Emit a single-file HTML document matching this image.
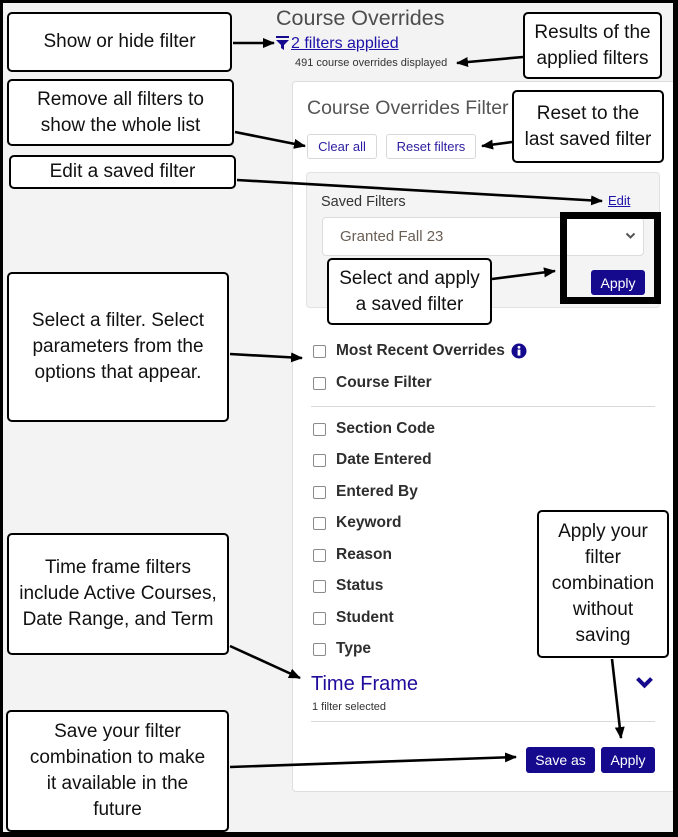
<!DOCTYPE html>
<html><head><meta charset="utf-8"><style>
*{margin:0;padding:0;box-sizing:border-box}
html,body{width:678px;height:837px;overflow:hidden;background:#000}
#bg{position:absolute;left:3px;top:3px;width:670px;height:829px;background:#f3f3f3}
.a{position:absolute}
.ui{font-family:"Liberation Sans",Arial,sans-serif}
.card{position:absolute;left:292px;top:81px;width:385px;height:711px;background:#fff;border:1px solid #dedede;border-radius:4px}
.co{position:absolute;background:#fff;border:2px solid #000;border-radius:5px;display:flex;align-items:center;justify-content:center;text-align:center;font-family:"Liberation Sans",Arial,sans-serif;font-size:19px;line-height:26px;color:#111;z-index:5}
.cb{position:absolute;left:313px;width:13px;height:13px;border:1px solid #8a8a8a;border-radius:2px;background:#fff}
.lb{position:absolute;left:336px;font-family:"Liberation Sans",Arial,sans-serif;font-weight:bold;font-size:15.5px;color:#2e2e2e;line-height:18px}
.btn{position:absolute;background:#150a8e;color:#fff;border-radius:3px;font-family:"Liberation Sans",Arial,sans-serif;font-size:14px;display:flex;align-items:center;justify-content:center}
.wb{position:absolute;background:#fff;border:1px solid #d8d8d8;border-radius:3px;color:#2a1ca0;font-family:"Liberation Sans",Arial,sans-serif;font-size:13px;display:flex;align-items:center;justify-content:center}
</style></head><body>
<div id="bg"></div>

<!-- header -->
<div class="a ui" style="left:276px;top:5px;font-size:21.5px;color:#4d4d4d;line-height:26px;white-space:nowrap">Course Overrides</div>
<svg class="a" style="left:276px;top:36px" width="14" height="15" viewBox="0 0 14 15"><rect x="0" y="0" width="13" height="2" fill="#150a8e"/><path d="M0 4 H13 L8 9 V14 L5 12 V9 Z" fill="#150a8e"/></svg>
<div class="a ui" style="left:291px;top:35px;font-size:16px;color:#1d12a8;text-decoration:underline;line-height:18px;white-space:nowrap">2 filters applied</div>
<div class="a ui" style="left:295px;top:57px;font-size:11px;color:#333;line-height:13px;white-space:nowrap">491 course overrides displayed</div>

<div class="card"></div>
<div class="a ui" style="left:307px;top:96px;font-size:19.5px;color:#555;line-height:24px;white-space:nowrap">Course Overrides Filter</div>
<div class="wb" style="left:307px;top:134px;width:70px;height:25px">Clear all</div>
<div class="wb" style="left:386px;top:134px;width:90px;height:25px">Reset filters</div>

<!-- saved filters box -->
<div class="a" style="left:306px;top:172px;width:354px;height:136px;background:#f4f4f4;border:1px solid #e2e2e2;border-radius:4px"></div>
<div class="a ui" style="left:321px;top:194px;font-size:14.5px;color:#333;line-height:17px">Saved Filters</div>
<div class="a ui" style="left:608px;top:193px;font-size:13px;color:#1d12a8;text-decoration:underline;line-height:15px">Edit</div>
<div class="a" style="left:322px;top:217px;width:322px;height:39px;background:#fff;border:1px solid #dcdcdc;border-radius:4px"></div>
<div class="a ui" style="left:340px;top:228px;font-size:15px;color:#6a5f55;line-height:18px;white-space:nowrap">Granted Fall 23</div>
<svg class="a" style="left:625px;top:232px" width="11" height="8"><path d="M1.5 1.5 L5.5 5.5 L9.5 1.5" stroke="#555" stroke-width="2" fill="none"/></svg>
<div class="btn" style="left:591px;top:270px;width:54px;height:25px">Apply</div>
<div class="a" style="left:560px;top:212px;width:101px;height:92px;border:7px solid #000;z-index:4"></div>

<!-- filter list -->
<div class="cb" style="top:345px"></div><div class="lb" style="top:342px">Most Recent Overrides</div>
<svg class="a" style="left:511px;top:343px" width="16" height="16"><circle cx="8" cy="8" r="7.5" fill="#150a8e"/><circle cx="8" cy="4.3" r="1.4" fill="#fff"/><rect x="6.6" y="6.6" width="2.8" height="6" fill="#fff"/></svg>
<div class="cb" style="top:377px"></div><div class="lb" style="top:374px">Course Filter</div>
<div class="a" style="left:311px;top:406px;width:344px;height:1px;background:#d9d9d9"></div>
<div class="cb" style="top:423px"></div><div class="lb" style="top:420px">Section Code</div>
<div class="cb" style="top:454px"></div><div class="lb" style="top:451px">Date Entered</div>
<div class="cb" style="top:486px"></div><div class="lb" style="top:483px">Entered By</div>
<div class="cb" style="top:517px"></div><div class="lb" style="top:514px">Keyword</div>
<div class="cb" style="top:549px"></div><div class="lb" style="top:546px">Reason</div>
<div class="cb" style="top:580px"></div><div class="lb" style="top:577px">Status</div>
<div class="cb" style="top:612px"></div><div class="lb" style="top:609px">Student</div>
<div class="cb" style="top:643px"></div><div class="lb" style="top:640px">Type</div>

<div class="a ui" style="left:311px;top:673px;font-size:20px;color:#1f0c9c;line-height:23px;white-space:nowrap">Time Frame</div>
<svg class="a" style="left:635px;top:676px" width="19" height="13"><path d="M2.5 2.5 L9.5 9.5 L16.5 2.5" stroke="#150a8e" stroke-width="4" fill="none"/></svg>
<div class="a ui" style="left:312px;top:701px;font-size:11px;color:#333;line-height:13px;white-space:nowrap">1 filter selected</div>
<div class="a" style="left:311px;top:721px;width:344px;height:1px;background:#d9d9d9"></div>
<div class="btn" style="left:526px;top:747px;width:69px;height:26px">Save as</div>
<div class="btn" style="left:601px;top:747px;width:54px;height:26px">Apply</div>

<!-- callouts -->
<div class="co" style="left:7px;top:12px;width:225px;height:60px">Show or hide filter</div>
<div class="co" style="left:7px;top:79px;width:227px;height:67px">Remove all filters to<br>show the whole list</div>
<div class="co" style="left:9px;top:155px;width:227px;height:34px">Edit a saved filter</div>
<div class="co" style="left:7px;top:272px;width:222px;height:150px">Select a filter. Select<br>parameters from the<br>options that appear.</div>
<div class="co" style="left:7px;top:533px;width:222px;height:122px">Time frame filters<br>include Active Courses,<br>Date Range, and Term</div>
<div class="co" style="left:6px;top:710px;width:223px;height:122px">Save your filter<br>combination to make<br>it available in the<br>future</div>
<div class="co" style="left:523px;top:12px;width:139px;height:67px">Results of the<br>applied filters</div>
<div class="co" style="left:512px;top:90px;width:152px;height:73px">Reset to the<br>last saved filter</div>
<div class="co" style="left:327px;top:258px;width:165px;height:67px">Select and apply<br>a saved filter</div>
<div class="co" style="left:537px;top:510px;width:132px;height:148px">Apply your<br>filter<br>combination<br>without<br>saving</div>

<!-- arrows -->
<svg class="a" style="left:0;top:0;z-index:6" width="678" height="837">
<defs><marker id="m" markerUnits="userSpaceOnUse" markerWidth="12" markerHeight="10" refX="11" refY="5" orient="auto"><path d="M0 0 L12 5 L0 10 Z" fill="#000"/></marker></defs>
<g stroke="#000" stroke-width="2.6" fill="none" marker-end="url(#m)">
<line x1="233" y1="43" x2="274" y2="43"/>
<line x1="523" y1="57" x2="457" y2="63"/>
<line x1="235" y1="132" x2="305" y2="146"/>
<line x1="512" y1="142" x2="482" y2="146"/>
<line x1="237" y1="180" x2="602" y2="201"/>
<line x1="492" y1="279" x2="555" y2="271"/>
<line x1="230" y1="354" x2="302" y2="358"/>
<line x1="230" y1="646" x2="300" y2="678"/>
<line x1="230" y1="767" x2="516" y2="757"/>
<line x1="612" y1="659" x2="621" y2="738"/>
</g></svg>

<!-- outer border -->
<div class="a" style="left:0;top:0;width:678px;height:3px;background:#000;z-index:9"></div>
<div class="a" style="left:0;top:0;width:3px;height:837px;background:#000;z-index:9"></div>
<div class="a" style="left:673px;top:0;width:5px;height:837px;background:#000;z-index:9"></div>
<div class="a" style="left:0;top:832px;width:678px;height:5px;background:#000;z-index:9"></div>
</body></html>
